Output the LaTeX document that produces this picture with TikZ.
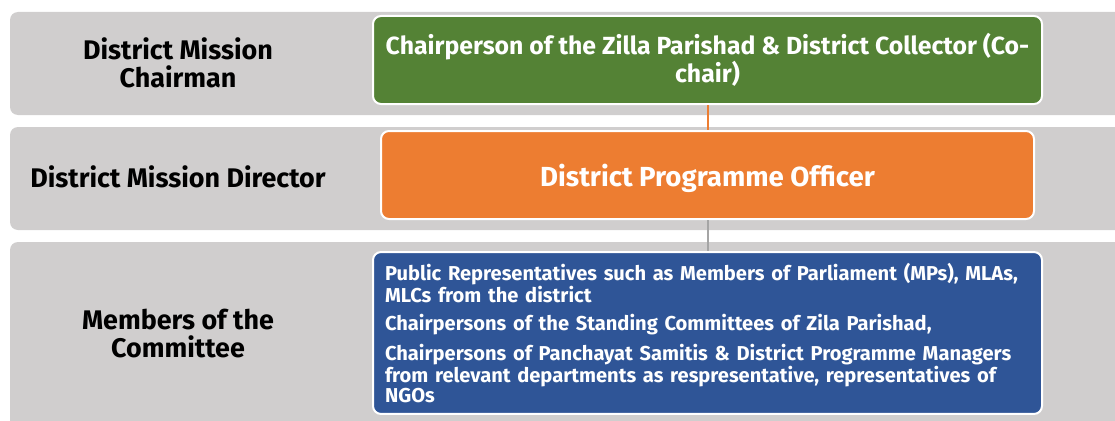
\documentclass[tikz,border=0pt]{standalone}
\usepackage{fontspec}
\setmainfont{Fira Sans}
\usetikzlibrary{positioning}

\definecolor{bandgrey}{HTML}{D0CECE}
\definecolor{chairgreen}{HTML}{548235}
\definecolor{officerorange}{HTML}{ED7D31}
\definecolor{memberblue}{HTML}{2F5597}
\definecolor{linkgrey}{HTML}{A5A5A5}

\begin{document}
\begin{tikzpicture}[x=1pt,y=-1pt,
band/.style={fill=bandgrey, rounded corners=8pt},
rolelabel/.style={font=\bfseries\fontsize{26.9}{28}\selectfont, align=center, text=black},
rolebox/.style={draw=white, line width=2pt, rounded corners=8pt, text=white, font=\bfseries\fontsize{24.8}{24}\selectfont, align=center}]
\clip (0,0) rectangle (1115,420);

\fill[band] (10,12) rectangle (1140,115);
\fill[band] (10,127) rectangle (1140,230);
\fill[band] (10,242) rectangle (1140,450);

\node[rolelabel] (chairlabel) at (178,63) {District Mission\\Chairman};
\node[rolelabel] (directorlabel) at (178,177) {District Mission Director};
\node[rolelabel] (memberlabel) at (178,334) {Members of the\\Committee};

\node[rolebox, fill=chairgreen, minimum width=669, minimum height=88] (chair) at (707.5,60)
{Chairperson of the Zilla Parishad \& District Collector (Co-\\chair)};
\node[rolebox, fill=officerorange, minimum width=653, minimum height=88, text depth=0pt, font=\bfseries\fontsize{27.6}{30}\selectfont] (officer) at (707.5,175)
{District Programme Officer};
\node[rolebox, fill=memberblue, minimum width=669, minimum height=159, inner sep=11, text width=645, align=left, font=\bfseries\fontsize{20.1}{20.5}\selectfont] (members) at (707.5,333)
{Public Representatives such as Members of Parliament (MPs), MLAs,\\
MLCs from the district\\[8pt]
Chairpersons of the Standing Committees of Zila Parishad,\\[8pt]
Chairpersons of Panchayat Samitis \& District Programme Managers\\
from relevant departments as respresentative, representatives of\\
NGOs};

\draw[officerorange, line width=2pt] (chair) -- (officer);
\draw[linkgrey, line width=2pt] (officer) -- (members);
\end{tikzpicture}
\end{document}
